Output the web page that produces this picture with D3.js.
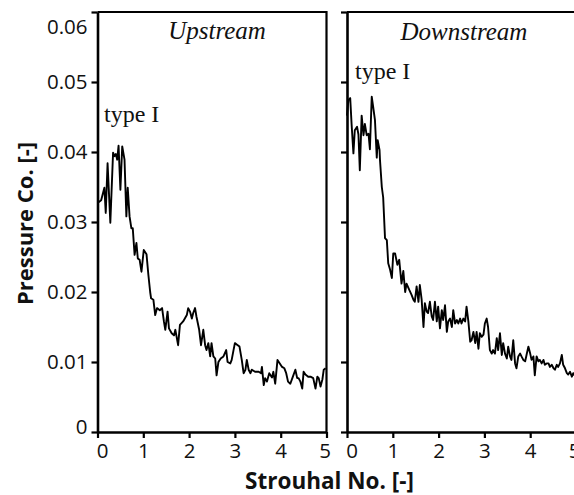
<!DOCTYPE html>
<html>
<head>
<meta charset="utf-8">
<script src="https://cdn.jsdelivr.net/npm/d3@7"></script>
<style>
  html, body { margin: 0; padding: 0; background: #fff; }
  svg { display: block; }
</style>
</head>
<body>
<svg id="chart" width="574" height="495"></svg>
<script>
// Strouhal number samples and pressure coefficient, upstream probe
const upSt = [0.00,0.08,0.15,0.18,0.22,0.28,0.34,0.37,0.40,0.43,0.46,0.50,0.54,0.59,0.63,0.66,0.70,0.74,0.77,0.81,
  0.85,0.88,0.92,0.96,1.01,1.07,1.11,1.15,1.17,1.22,1.26,1.30,1.36,1.41,1.45,1.48,1.53,1.56,1.62,1.67,
  1.70,1.76,1.80,1.87,1.95,1.98,2.02,2.06,2.09,2.13,2.16,2.22,2.26,2.31,2.35,2.38,2.42,2.46,2.49,2.53,
  2.57,2.60,2.64,2.69,2.75,2.81,2.84,2.90,2.93,2.97,3.00,3.04,3.10,3.15,3.19,3.23,3.26,3.30,3.34,3.37,
  3.44,3.52,3.57,3.59,3.63,3.66,3.70,3.75,3.81,3.84,3.88,3.93,3.98,4.03,4.08,4.12,4.16,4.21,4.26,4.32,
  4.36,4.39,4.43,4.47,4.50,4.54,4.60,4.65,4.71,4.76,4.80,4.83,4.87,4.91,4.94,4.98];
const upCp = [0.0327,0.0331,0.0349,0.0313,0.0384,0.0299,0.0399,0.0394,0.0397,0.0389,0.0409,0.0346,0.0408,0.0389,0.0308,0.0349,0.0308,0.0291,0.0291,0.0253,
  0.0270,0.0248,0.0246,0.0229,0.0260,0.0254,0.0225,0.0200,0.0191,0.0189,0.0167,0.0177,0.0174,0.0177,0.0158,0.0146,0.0172,0.0148,0.0141,0.0138,
  0.0146,0.0124,0.0153,0.0158,0.0167,0.0177,0.0172,0.0162,0.0170,0.0177,0.0165,0.0146,0.0124,0.0146,0.0124,0.0117,0.0127,0.0108,0.0127,0.0108,
  0.0105,0.0081,0.0100,0.0105,0.0108,0.0117,0.0100,0.0098,0.0103,0.0117,0.0127,0.0125,0.0122,0.0103,0.0084,0.0089,0.0103,0.0089,0.0084,0.0089,
  0.0086,0.0086,0.0084,0.0093,0.0067,0.0077,0.0072,0.0084,0.0078,0.0086,0.0069,0.0103,0.0098,0.0093,0.0091,0.0084,0.0072,0.0069,0.0078,0.0089,
  0.0077,0.0077,0.0072,0.0062,0.0086,0.0082,0.0079,0.0079,0.0077,0.0062,0.0079,0.0077,0.0065,0.0075,0.0089,0.0091];

// Strouhal number samples and pressure coefficient, downstream probe
const downSt = [0.00,0.03,0.07,0.10,0.14,0.17,0.22,0.25,0.28,0.32,0.36,0.39,0.43,0.47,0.50,0.54,0.57,0.61,0.65,0.67,
  0.71,0.72,0.76,0.79,0.83,0.87,0.90,0.94,0.98,1.01,1.05,1.10,1.14,1.19,1.23,1.27,1.30,1.36,1.41,1.45,
  1.48,1.52,1.56,1.59,1.63,1.67,1.70,1.74,1.77,1.81,1.85,1.88,1.92,1.96,1.99,2.03,2.07,2.10,2.14,2.18,
  2.21,2.25,2.29,2.32,2.36,2.40,2.43,2.47,2.50,2.54,2.58,2.61,2.65,2.69,2.72,2.76,2.80,2.83,2.87,2.90,
  2.94,2.98,3.01,3.05,3.08,3.12,3.16,3.19,3.23,3.27,3.30,3.34,3.38,3.41,3.45,3.49,3.52,3.56,3.59,3.63,
  3.67,3.70,3.74,3.78,3.81,3.85,3.89,3.92,3.96,4.00,4.03,4.07,4.10,4.14,4.18,4.21,4.25,4.29,4.32,4.36,
  4.40,4.43,4.47,4.51,4.54,4.58,4.61,4.65,4.69,4.72,4.76,4.80,4.83,4.87,4.91,4.94,4.98];
const downCp = [0.0452,0.0474,0.0477,0.0440,0.0398,0.0431,0.0436,0.0425,0.0374,0.0452,0.0424,0.0440,0.0424,0.0426,0.0404,0.0479,0.0465,0.0446,0.0392,0.0417,
  0.0403,0.0389,0.0350,0.0335,0.0277,0.0274,0.0241,0.0232,0.0220,0.0255,0.0255,0.0239,0.0246,0.0212,0.0230,0.0200,0.0212,0.0203,0.0196,0.0189,
  0.0186,0.0208,0.0186,0.0210,0.0189,0.0150,0.0184,0.0172,0.0170,0.0186,0.0165,0.0160,0.0186,0.0158,0.0179,0.0148,0.0174,0.0160,0.0181,0.0143,
  0.0158,0.0162,0.0150,0.0174,0.0155,0.0160,0.0155,0.0162,0.0155,0.0162,0.0158,0.0179,0.0158,0.0129,0.0131,0.0143,0.0127,0.0143,0.0119,0.0141,
  0.0136,0.0139,0.0155,0.0162,0.0150,0.0117,0.0112,0.0117,0.0112,0.0134,0.0117,0.0141,0.0110,0.0127,0.0112,0.0105,0.0122,0.0108,0.0103,0.0131,
  0.0098,0.0091,0.0108,0.0112,0.0108,0.0103,0.0101,0.0110,0.0122,0.0112,0.0103,0.0108,0.0081,0.0108,0.0101,0.0103,0.0098,0.0103,0.0096,0.0098,
  0.0098,0.0093,0.0096,0.0091,0.0089,0.0096,0.0093,0.0098,0.0110,0.0096,0.0091,0.0084,0.0082,0.0086,0.0079,0.0084,0.0080];

const yTicks = [0, 0.01, 0.02, 0.03, 0.04, 0.05, 0.06];
const yTickLabels = ["0", "0.01", "0.02", "0.03", "0.04", "0.05", "0.06"];
const xTicks = [0, 1, 2, 3, 4, 5];
const xTickLabels = ["0", "1", "2", "3", "4", "5"];

const panelTitles = ["Upstream", "Downstream"];
const peakLabel = "type I";
const yTitle = "Pressure Co. [-]";
const xTitle = "Strouhal No. [-]";

const svg = d3.select("#chart");
const sansFont = "'Open Sans', 'Noto Sans', sans-serif";
const serifFont = "'Liberation Serif', 'Times New Roman', serif";

const y = d3.scaleLinear().domain([0, 0.06]).range([432, 12]);

const panels = [
  { st: upSt, cp: upCp, x: d3.scaleLinear().domain([0, 5]).range([97.5, 326.5]),
    title: panelTitles[0], titleX: 217, titleY: 39, labelX: 104, labelY: 122, yLabels: true },
  { st: downSt, cp: downCp, x: d3.scaleLinear().domain([0, 5]).range([347, 576]),
    title: panelTitles[1], titleX: 464, titleY: 40, labelX: 355, labelY: 79, yLabels: false }
];

panels.forEach(p => {
  const g = svg.append("g");
  const [x0, x1] = p.x.range();

  // frame: top and right edges
  g.append("path")
    .attr("d", `M${x0},${y(0.06)}H${x1}V${y(0)}`)
    .attr("fill", "none")
    .attr("stroke", "#000")
    .attr("stroke-width", 2.2);

  // data trace
  const pts = p.st.map((s, i) => [s, p.cp[i]]);
  g.append("path")
    .datum(pts)
    .attr("d", d3.line().x(d => p.x(d[0])).y(d => y(d[1])))
    .attr("fill", "none")
    .attr("stroke", "#000")
    .attr("stroke-width", 1.9)
    .attr("stroke-linejoin", "round");

  // left axis
  const yAxis = d3.axisLeft(y)
    .tickValues(yTicks)
    .tickSize(6)
    .tickSizeOuter(0)
    .tickPadding(4)
    .tickFormat((d, i) => p.yLabels ? yTickLabels[i] : "");
  const ya = g.append("g").attr("transform", `translate(${x0},0)`).call(yAxis);
  ya.select(".domain").attr("stroke-width", 2.6);
  ya.selectAll(".tick line").attr("stroke-width", 2.2);
  ya.selectAll(".tick text")
    .attr("font-family", sansFont)
    .attr("font-size", 20.5)
    .attr("fill", "#111")
    .attr("dy", d => d === 0.06 ? "1.05em" : d === 0 ? "0.05em" : "0.34em");

  // bottom axis
  const xAxis = d3.axisBottom(p.x)
    .tickValues(xTicks)
    .tickSize(6)
    .tickSizeOuter(0)
    .tickPadding(5)
    .tickFormat((d, i) => xTickLabels[i]);
  const xa = g.append("g").attr("transform", `translate(0,${y(0)})`).call(xAxis);
  xa.select(".domain").attr("stroke-width", 2.6);
  xa.selectAll(".tick line").attr("stroke-width", 2.2);
  xa.selectAll(".tick text")
    .attr("font-family", sansFont)
    .attr("font-size", 20.5)
    .attr("fill", "#111")
    .attr("dx", d => d === 0 ? 4.5 : d === 5 ? -2 : 0);

  // panel title
  g.append("text")
    .attr("x", p.titleX)
    .attr("y", p.titleY)
    .attr("text-anchor", "middle")
    .attr("font-family", serifFont)
    .attr("font-style", "italic")
    .attr("font-size", 25)
    .attr("fill", "#111")
    .text(p.title);

  // peak annotation
  g.append("text")
    .attr("x", p.labelX)
    .attr("y", p.labelY)
    .attr("font-family", serifFont)
    .attr("font-size", 24)
    .attr("fill", "#111")
    .text(peakLabel);
});

// axis titles
svg.append("text")
  .attr("transform", "translate(33,223.5) rotate(-90)")
  .attr("text-anchor", "middle")
  .attr("font-family", sansFont)
  .attr("font-weight", "bold")
  .attr("font-size", 22)
  .attr("fill", "#111")
  .text(yTitle);

svg.append("text")
  .attr("x", 329.5)
  .attr("y", 489)
  .attr("text-anchor", "middle")
  .attr("font-family", sansFont)
  .attr("font-weight", "bold")
  .attr("font-size", 22.5)
  .attr("fill", "#111")
  .text(xTitle);
</script>
</body>
</html>
